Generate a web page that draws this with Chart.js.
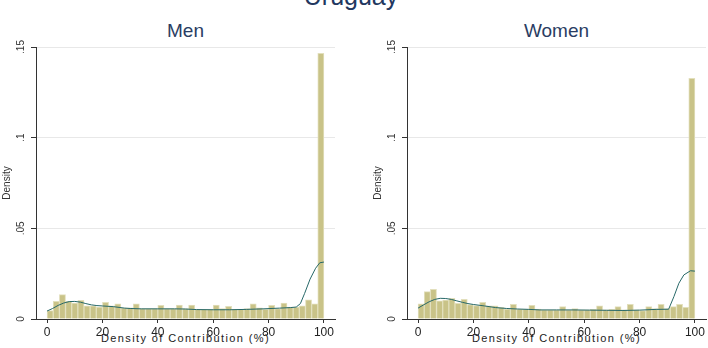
<!DOCTYPE html>
<html>
<head>
<meta charset="utf-8">
<script src="https://cdn.jsdelivr.net/npm/chart.js@4.4.1/dist/chart.umd.min.js"></script>
<style>
body { margin: 0; width: 708px; height: 348px; overflow: hidden; background: #fff; position: relative; font-family: "Liberation Sans", Arial, sans-serif; }
canvas { position: absolute; top: 0; }
.txt { position: absolute; white-space: nowrap; text-align: center; }
#titulo { left: 0; width: 702px; top: -16px; font-size: 25px; line-height: 25px; color: #22375f; }
.panel { top: 21px; font-size: 19px; line-height: 19px; color: #2a3d63; }
.xtit { top: 333px; font-size: 11px; line-height: 11px; letter-spacing: 1.4px; color: #222; }
</style>
</head>
<body>
<div id="titulo" class="txt">Uruguay</div>
<div class="txt panel" style="left:36px;width:299px">Men</div>
<div class="txt panel" style="left:407px;width:299px">Women</div>
<div class="txt xtit" style="left:36px;width:299px">Density of Contribution (%)</div>
<div class="txt xtit" style="left:407px;width:299px">Density of Contribution (%)</div>
<canvas id="hombres" width="354" height="348" style="left:0"></canvas>
<canvas id="mujeres" width="337" height="348" style="left:371px"></canvas>
<script>
// Histograma: 45 intervalos entre 0 y 100
var anchoIntervalo = 100 / 45;

var barrasHombres = [0.0046, 0.0097, 0.0134, 0.0097, 0.0088, 0.0103, 0.0072, 0.0072, 0.0066, 0.0092,
    0.0073, 0.0083, 0.0061, 0.0061, 0.0083, 0.0057, 0.0057, 0.0057, 0.0075, 0.0057,
    0.0057, 0.0077, 0.0057, 0.0077, 0.0053, 0.0053, 0.0053, 0.0077, 0.0057, 0.0070,
    0.0053, 0.0053, 0.0057, 0.0083, 0.0061, 0.0053, 0.0075, 0.0057, 0.0088, 0.0066,
    0.0066, 0.0073, 0.0106, 0.0083, 0.1465];

var barrasMujeres = [0.0084, 0.0151, 0.0164, 0.0100, 0.0104, 0.0114, 0.0087, 0.0108, 0.0080, 0.0074,
    0.0092, 0.0072, 0.0072, 0.0064, 0.0055, 0.0081, 0.0055, 0.0055, 0.0075, 0.0055,
    0.0051, 0.0051, 0.0051, 0.0068, 0.0051, 0.0057, 0.0051, 0.0051, 0.0053, 0.0073,
    0.0051, 0.0053, 0.0068, 0.0051, 0.0081, 0.0051, 0.0046, 0.0068, 0.0057, 0.0081,
    0.0057, 0.0068, 0.0081, 0.0064, 0.1327];

// Densidad kernel (x, y)
var densHombresX = [0, 2, 4, 6, 8, 10, 12, 14, 16, 18, 20, 22, 24, 26, 28, 30, 34, 40, 46, 50, 54, 60, 66, 72, 78, 84, 88, 90, 91.5, 93, 95, 97, 98.5, 100];
var densHombresY = [0.0044, 0.0058, 0.0075, 0.0088, 0.0096, 0.0097, 0.0093, 0.0085, 0.0078, 0.0074, 0.0072, 0.0070, 0.0068, 0.0064, 0.0060, 0.0058, 0.0056, 0.0056, 0.0056, 0.0055, 0.0052, 0.0051, 0.0051, 0.0053, 0.0056, 0.0060, 0.0063, 0.0066, 0.0085, 0.0140, 0.0220, 0.0280, 0.0310, 0.0314];

var densMujeresX = [0, 2, 4, 6, 8, 10, 12, 14, 16, 18, 20, 24, 28, 32, 36, 40, 44, 50, 56, 62, 68, 74, 80, 86, 90.5, 92.4, 94.2, 96, 98.4, 100];
var densMujeresY = [0.0060, 0.0078, 0.0095, 0.0108, 0.0114, 0.0113, 0.0108, 0.0100, 0.0092, 0.0085, 0.0080, 0.0072, 0.0063, 0.0058, 0.0055, 0.0053, 0.0050, 0.0050, 0.0050, 0.0049, 0.0048, 0.0047, 0.0049, 0.0053, 0.0054, 0.0123, 0.0197, 0.0243, 0.0266, 0.0264];

var ticksX = [0, 20, 40, 60, 80, 100];
var ticksY = [0, 0.05, 0.1, 0.15];
var etiquetasY = ['0', '.05', '.1', '.15'];

var colorBarra = '#c9c388';
var colorLinea = '#276868';
var colorEje = '#333333';

function crearPanel(id, barras, densX, densY, margenDerecho) {
    var puntosBarras = [];
    for (let i = 0; i < barras.length; i++) {
        puntosBarras.push({x: (i + 0.5) * anchoIntervalo, y: barras[i]});
    }
    var puntosDens = [];
    for (let i = 0; i < densX.length; i++) {
        puntosDens.push({x: densX[i], y: densY[i]});
    }

    return new Chart(document.getElementById(id), {
        type: 'bar',
        data: {
            datasets: [
                {
                    type: 'line',
                    data: puntosDens,
                    borderColor: colorLinea,
                    borderWidth: 1,
                    pointRadius: 0,
                    tension: 0,
                    order: 0
                },
                {
                    type: 'bar',
                    data: puntosBarras,
                    backgroundColor: colorBarra,
                    borderColor: '#e2dfbc',
                    borderWidth: 1,
                    categoryPercentage: 1,
                    barPercentage: 1,
                    order: 1
                }
            ]
        },
        options: {
            responsive: false,
            animation: false,
            layout: {padding: {top: 47, right: margenDerecho, bottom: 0, left: 0}},
            plugins: {legend: {display: false}, tooltip: {enabled: false}},
            scales: {
                x: {
                    type: 'linear',
                    min: -4,
                    max: 104,
                    offset: false,
                    afterBuildTicks: function(eje) {
                        eje.ticks = ticksX.map(function(v) { return {value: v}; });
                    },
                    afterFit: function(eje) { eje.height = 29; },
                    grid: {display: true, drawOnChartArea: false, offset: false, color: colorEje, tickLength: 4},
                    border: {display: true, color: colorEje, width: 1},
                    ticks: {
                        autoSkip: false,
                        maxRotation: 0,
                        padding: 2,
                        color: '#222',
                        font: {family: 'Liberation Sans', size: 12}
                    }
                },
                y: {
                    min: 0,
                    max: 0.15,
                    afterBuildTicks: function(eje) {
                        eje.ticks = ticksY.map(function(v) { return {value: v}; });
                    },
                    afterFit: function(eje) { eje.width = 36; },
                    grid: {
                        color: function(c) { return c.tick && c.tick.value === 0 ? 'rgba(0,0,0,0)' : '#e8e8e8'; },
                        tickColor: colorEje,
                        tickLength: 5
                    },
                    border: {display: true, color: colorEje, width: 1},
                    ticks: {
                        minRotation: 90,
                        maxRotation: 90,
                        crossAlign: 'center',
                        padding: 3,
                        color: '#333',
                        font: {family: 'Liberation Sans', size: 10},
                        callback: function(valor) {
                            for (let i = 0; i < ticksY.length; i++) {
                                if (Math.abs(ticksY[i] - valor) < 1e-9) return etiquetasY[i];
                            }
                            return '';
                        }
                    },
                    title: {
                        display: true,
                        text: 'Density',
                        color: '#333',
                        padding: {top: 1, bottom: 0},
                        font: {family: 'Liberation Sans', size: 10}
                    }
                }
            }
        }
    });
}

crearPanel('hombres', barrasHombres, densHombresX, densHombresY, 19);
crearPanel('mujeres', barrasMujeres, densMujeresX, densMujeresY, 2);
</script>
</body>
</html>
